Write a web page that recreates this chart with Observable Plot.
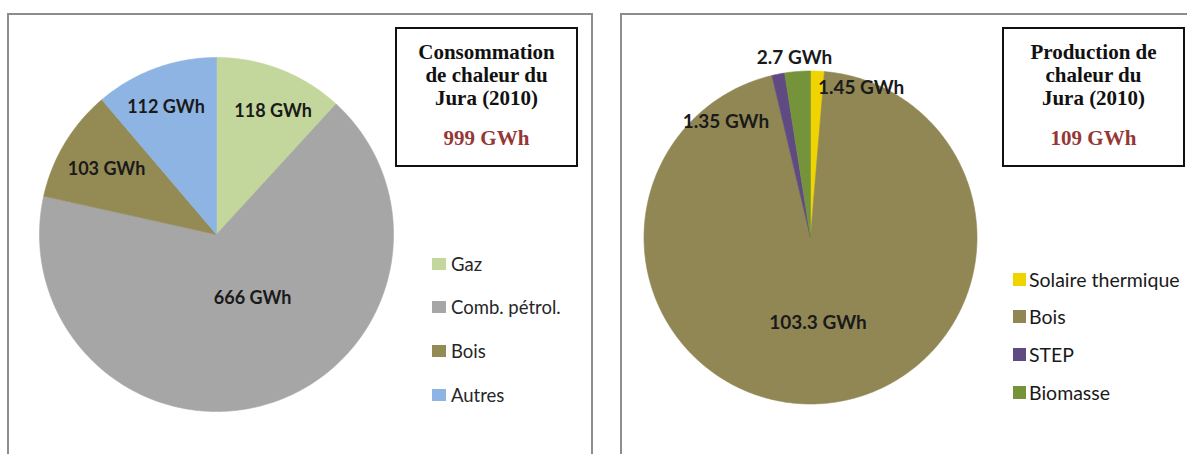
<!DOCTYPE html>
<html><head><meta charset="utf-8">
<script src="https://cdn.jsdelivr.net/npm/d3@7"></script>
<script src="https://cdn.jsdelivr.net/npm/@observablehq/plot@0.6"></script>
<style>
html,body{margin:0;padding:0;background:#fff;}
body{width:1187px;height:454px;position:relative;overflow:hidden;}
.panel{position:absolute;border:2px solid #8d8d8d;box-sizing:border-box;background:#fff;}
.pie{position:absolute;}
.pie svg{max-width:none;}
.titlebox{position:absolute;border:2px solid #111;box-sizing:border-box;background:#fff;
  font-family:"Liberation Serif","Times New Roman",serif;font-weight:bold;text-align:center;color:#111;}
.titlebox .t{position:absolute;left:0;right:0;font-size:21px;line-height:23px;}
.titlebox .v{position:absolute;left:0;right:0;font-size:21px;line-height:23px;color:#953735;}
.legend{position:absolute;font-family:Lato,"Noto Sans",sans-serif;}
.legend .row{position:absolute;left:0;white-space:nowrap;display:flex;align-items:center;}
.legend .sw{display:inline-block;}
</style></head><body>
<div id="root"></div>
<script>
// ---------- data ----------
const consoCategories = ["Gaz", "Comb. pétrol.", "Bois", "Autres"];
const consoValues = [118, 666, 103, 112];
const consoLabels = ["118 GWh", "666 GWh", "103 GWh", "112 GWh"];
const consoColors = ["#c3d69b", "#a6a6a6", "#948a54", "#8eb4e3"];
const consoTitle = ["Consommation", "de chaleur du", "Jura (2010)"];
const consoTotal = "999 GWh";

const prodCategories = ["Solaire thermique", "Bois", "STEP", "Biomasse"];
const prodValues = [1.45, 103.3, 1.35, 2.7];
const prodLabels = ["1.45 GWh", "103.3 GWh", "1.35 GWh", "2.7 GWh"];
const prodColors = ["#f0d400", "#918754", "#5f4a82", "#74933a"];
const prodTitle = ["Production de", "chaleur du", "Jura (2010)"];
const prodTotal = "109 GWh";

// ---------- layout (not data) ----------
const root = document.getElementById("root");
function el(tag, cls, style, parent) {
  const e = document.createElement(tag);
  if (cls) e.className = cls;
  Object.assign(e.style, style || {});
  (parent || root).appendChild(e);
  return e;
}

function pie(cats, vals, labels, colors, cfg) {
  const S = cfg.size, R = cfg.radius, h = (S / 2) / R;
  const arcs = d3.pie().sort(null).startAngle(0).endAngle(2 * Math.PI)(vals);
  const pts = [];
  arcs.forEach((a, i) => {
    pts.push({cat: cats[i], x: 0, y: 0});
    const n = Math.max(4, Math.ceil((a.endAngle - a.startAngle) / 0.01));
    for (let k = 0; k <= n; k++) {
      const t = a.startAngle + (a.endAngle - a.startAngle) * k / n;
      pts.push({cat: cats[i], x: Math.sin(t), y: Math.cos(t)});
    }
    pts.push({cat: cats[i], x: 0, y: 0});
  });
  const lab = labels.map((text, i) => {
    const [deg, rf] = cfg.labelPolar[i];
    const t = deg * Math.PI / 180;
    return {text, x: rf * Math.sin(t), y: rf * Math.cos(t)};
  });
  const svg = Plot.plot({
    width: S, height: S, margin: 0,
    style: {background: "transparent", fontFamily: "Lato, 'Noto Sans', sans-serif"},
    x: {domain: [-h, h], axis: null},
    y: {domain: [-h, h], axis: null},
    color: {domain: cats, range: colors},
    marks: [
      Plot.line(pts, {x: "x", y: "y", z: "cat", fill: "cat", stroke: "cat", strokeWidth: 0.6, curve: "linear"}),
      Plot.text(lab, {x: "x", y: "y", text: "text", fontSize: cfg.labelSize, fontWeight: "bold", fill: "#1a1a1a"})
    ]
  });
  const d = el("div", "pie", {left: (cfg.cx - S / 2) + "px", top: (cfg.cy - S / 2) + "px", width: S + "px", height: S + "px"});
  d.appendChild(svg);
}

function titleBox(lines, total, box) {
  const b = el("div", "titlebox", {left: box.x + "px", top: box.y + "px", width: box.w + "px", height: box.h + "px"});
  lines.forEach((l, i) => {
    const t = el("div", "t", {top: (box.firstLine + i * 23 - 11.5 - box.y - 2) + "px"}, b);
    t.textContent = l;
  });
  const v = el("div", "v", {top: (box.totalY - 11.5 - box.y - 2) + "px"}, b);
  v.textContent = total;
}

function legend(cats, colors, lg) {
  const L = el("div", "legend", {left: lg.x + "px", top: "0px", fontSize: lg.fontSize + "px", color: lg.color});
  cats.forEach((c, i) => {
    const r = el("div", "row", {top: (lg.rows[i] - 12) + "px", height: "24px"}, L);
    el("span", "sw", {width: lg.sw[0] + "px", height: lg.sw[1] + "px", background: colors[i], marginRight: lg.gap + "px"}, r);
    const s = el("span", null, {}, r);
    s.textContent = c;
  });
}

// panels
el("div", "panel", {left: "7px", top: "13px", width: "586px", height: "470px"});
el("div", "panel", {left: "620px", top: "13px", width: "600px", height: "470px"});

pie(consoCategories, consoValues, consoLabels, consoColors, {
  size: 420, radius: 177, cx: 215.5, cy: 234, labelSize: 18,
  labelPolar: [[24.7, 0.765], [150.6, 0.415], [300.6, 0.722], [338.3, 0.772]]
});
pie(prodCategories, prodValues, prodLabels, prodColors, {
  size: 420, radius: 166.5, cx: 809.5, cy: 236.5, labelSize: 19,
  labelPolar: [[18.7, 0.948], [175, 0.515], [323.8, 0.86], [354.9, 1.082]]
});

titleBox(consoTitle, consoTotal, {x: 395, y: 27, w: 183, h: 140, firstLine: 52, totalY: 138});
titleBox(prodTitle, prodTotal, {x: 1002, y: 27, w: 183, h: 140, firstLine: 52, totalY: 138});

legend(consoCategories, consoColors, {x: 432, rows: [264, 307, 351, 395], fontSize: 18.5, color: "#262626", sw: [14, 12], gap: 5});
legend(prodCategories, prodColors, {x: 1013, rows: [279, 316, 354, 392], fontSize: 19.5, color: "#1a1a1a", sw: [13, 13], gap: 3});
</script>
</body></html>
